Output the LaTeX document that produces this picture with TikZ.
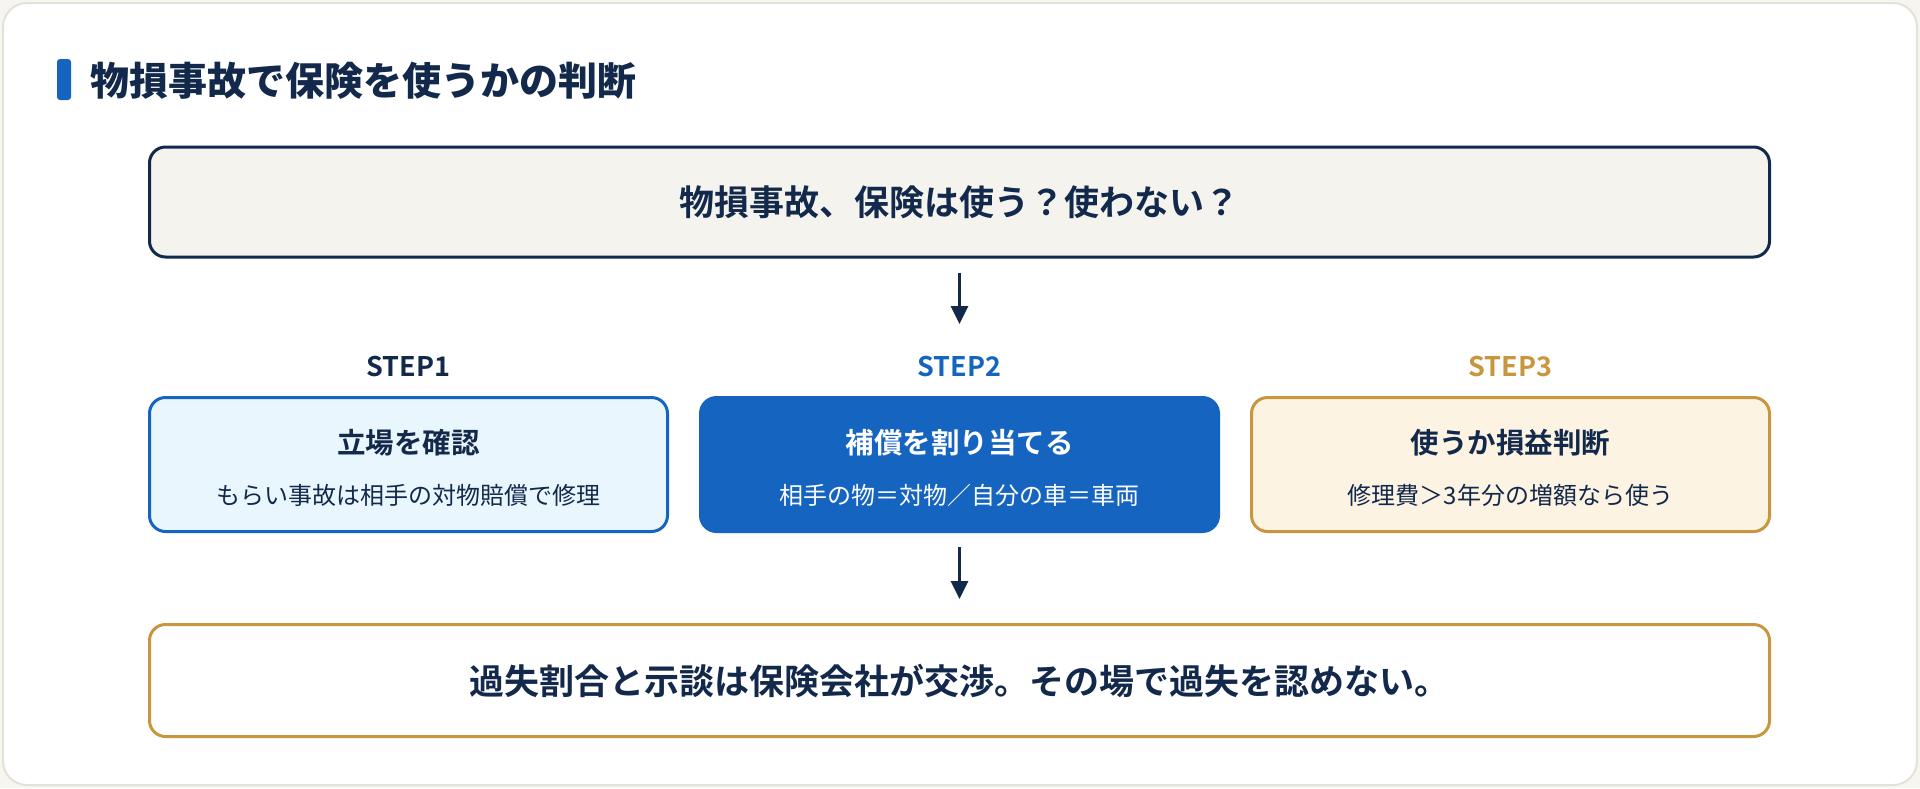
\documentclass[tikz,border=0pt]{standalone}
\usepackage{fontspec}
\setmainfont{Noto Sans CJK JP}[BoldFont={Noto Sans CJK JP Bold}]
\newfontfamily\headfont{Noto Sans CJK JP Black}
\usetikzlibrary{arrows.meta}

\definecolor{ink}{HTML}{13294B}
\definecolor{brandblue}{HTML}{1565C0}
\definecolor{gold}{HTML}{C8963E}
\definecolor{paper}{HTML}{F4F3EE}
\definecolor{cardline}{HTML}{E4E2D6}
\definecolor{skyfill}{HTML}{EAF6FD}
\definecolor{creamfill}{HTML}{FDF3E2}
\definecolor{pagebg}{HTML}{F6F5F0}

\tikzset{
  wide/.style={draw, rounded corners=16pt, line width=3pt,
    minimum width=1620pt, minimum height=110pt, inner sep=0pt},
  stepbox/.style={draw, rounded corners=16pt, line width=3pt,
    minimum width=518pt, minimum height=134pt, inner sep=0pt},
  steplabel/.style={font=\fontsize{27pt}{30pt}\selectfont\bfseries, inner sep=0pt},
  boxhead/.style={font=\fontsize{28.5pt}{32pt}\selectfont\bfseries, inner sep=0pt},
  boxsub/.style={font=\fontsize{24pt}{28pt}\selectfont, inner sep=0pt},
  flow/.style={draw=ink, line width=3pt, -{Triangle[length=18pt,width=17pt]}},
}

\begin{document}
\begin{tikzpicture}[x=1pt,y=-1pt]
  % page and card
  \fill[pagebg] (0,0) rectangle (1920,788);
  \filldraw[fill=white, draw=cardline, line width=2pt, rounded corners=24pt]
    (3,3) rectangle (1917,785);
  \useasboundingbox (0,0) rectangle (1920,788);

  % heading
  \fill[brandblue, rounded corners=3pt] (57,59) rectangle (71,100);
  \node[anchor=west, inner sep=0pt, text=ink,
        font=\fontsize{39pt}{44pt}\selectfont\headfont] (heading) at (90,81)
    {物損事故で保険を使うかの判断};

  % question box
  \node[wide, draw=ink, fill=paper] (question) at (959.5,202) {};
  \node[text=ink, inner sep=0pt, font=\fontsize{35pt}{40pt}\selectfont\bfseries]
    (questiontext) at (question.center) {物損事故、保険は使う？使わない？};

  % steps
  \node[stepbox, draw=brandblue, fill=skyfill] (s1) at (408.5,464.5) {};
  \node[stepbox, draw=brandblue, fill=brandblue] (s2) at (959.5,464.5) {};
  \node[stepbox, draw=gold, fill=creamfill] (s3) at (1510.5,464.5) {};

  \node[steplabel, text=ink] (l1) at (408.5,367) {STEP1};
  \node[steplabel, text=brandblue] (l2) at (959.5,367) {STEP2};
  \node[steplabel, text=gold] (l3) at (1510.5,367) {STEP3};

  \node[boxhead, text=ink] (h1) at ([yshift=22]s1.center) {立場を確認};
  \node[boxsub, text=ink] (t1) at ([yshift=-31]s1.center) {もらい事故は相手の対物賠償で修理};

  \node[boxhead, text=white] (h2) at ([yshift=22]s2.center) {補償を割り当てる};
  \node[boxsub, text=white] (t2) at ([yshift=-31]s2.center) {相手の物＝対物／自分の車＝車両};

  \node[boxhead, text=ink] (h3) at ([yshift=22]s3.center) {使うか損益判断};
  \node[boxsub, text=ink] (t3) at ([yshift=-31]s3.center) {修理費＞3年分の増額なら使う};

  % conclusion box
  \node[wide, draw=gold, fill=white, minimum height=112pt] (rule) at (959.5,680.5) {};
  \node[text=ink, inner sep=0pt, font=\fontsize{35pt}{40pt}\selectfont\bfseries]
    (ruletext) at (rule.center) {過失割合と示談は保険会社が交渉。その場で過失を認めない。};

  % connectors
  \draw[flow, shorten <=14pt, shorten >=72pt] (question.south) -- (s2.north);
  \draw[flow, shorten <=14pt, shorten >=24pt] (s2.south) -- (rule.north);
\end{tikzpicture}
\end{document}
